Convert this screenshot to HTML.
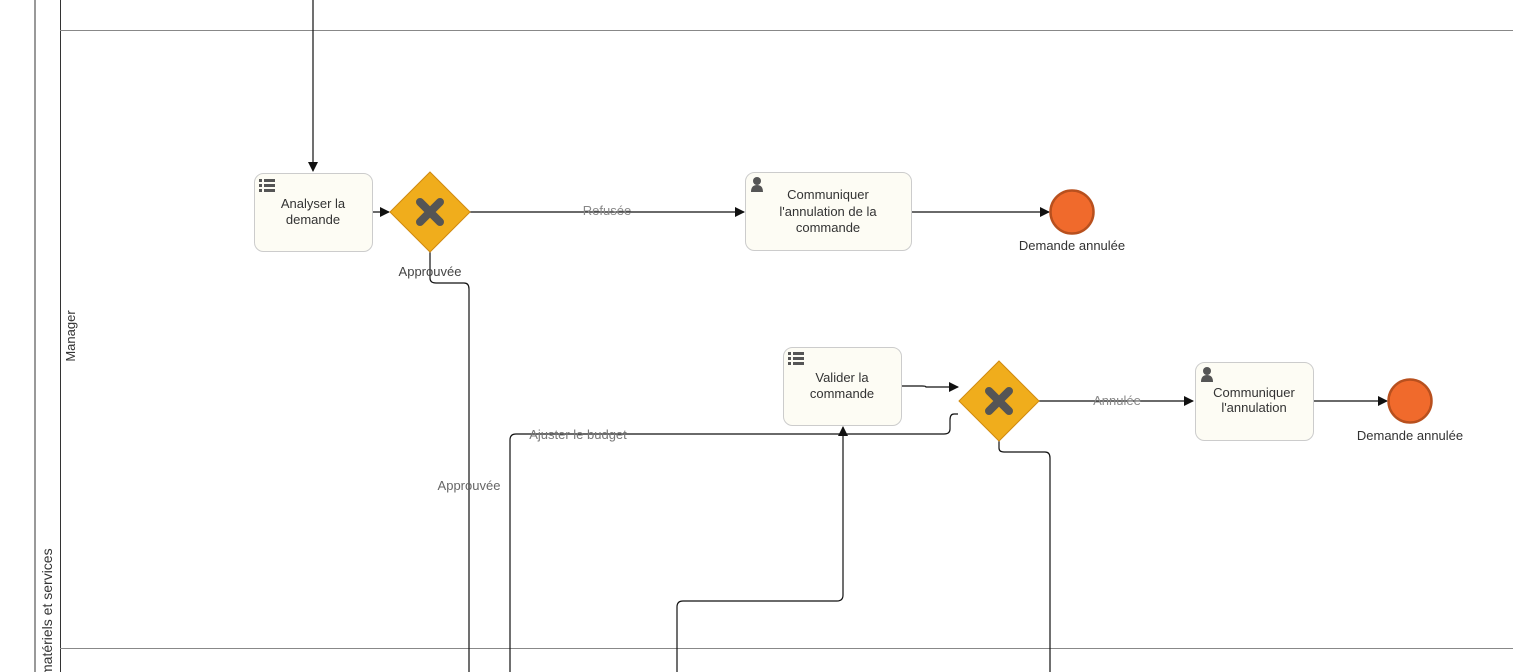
<!DOCTYPE html>
<html><head><meta charset="utf-8"><style>
html,body{margin:0;padding:0;background:#fff;}
svg{display:block;font-family:"Liberation Sans",sans-serif;}
</style></head><body>
<svg width="1513" height="672" viewBox="0 0 1513 672" xmlns="http://www.w3.org/2000/svg">
<defs>
<marker id="a" markerWidth="10" markerHeight="10" refX="9" refY="5" orient="auto" markerUnits="userSpaceOnUse">
<path d="M0,0 L10,5 L0,10 z" fill="#111"/></marker>
<g id="x"><path d="M-10,-10 L10,10 M10,-10 L-10,10" stroke="#555" stroke-width="8" stroke-linecap="round"/></g>
<g id="list" fill="#555"><rect x="0" y="0" width="3" height="3"/><rect x="5" y="0" width="11" height="3"/><rect x="0" y="5" width="3" height="3"/><rect x="5" y="5" width="11" height="3"/><rect x="0" y="10" width="3" height="3"/><rect x="5" y="10" width="11" height="3"/></g>
<g id="user" fill="#555"><circle cx="6" cy="4" r="4"/><path d="M0,15 Q0,8 6,8 Q12,8 12,15 z"/></g>
</defs>
<rect x="0" y="0" width="1513" height="672" fill="#fff"/>
<line x1="35" y1="0" x2="35" y2="672" stroke="#333"/>
<line x1="60.5" y1="0" x2="60.5" y2="672" stroke="#333"/>
<line x1="60" y1="30.5" x2="1513" y2="30.5" stroke="#888"/>
<line x1="60" y1="648.5" x2="1513" y2="648.5" stroke="#888"/>
<text transform="translate(75,336) rotate(-90)" text-anchor="middle" font-size="13" fill="#333">Manager</text>
<text transform="translate(52,672) rotate(-90)" text-anchor="start" font-size="14" fill="#333" dx="-4">matériels et services</text>

<g fill="none" stroke="#111" stroke-width="1.2">
<line x1="313" y1="0" x2="313" y2="171" marker-end="url(#a)"/>
<line x1="372" y1="212" x2="389" y2="212" marker-end="url(#a)"/>
<line x1="470" y1="212" x2="744" y2="212" marker-end="url(#a)"/>
<line x1="911" y1="212" x2="1049" y2="212" marker-end="url(#a)"/>
<path d="M430,252 V278 Q430,283 436,283 H464 Q469,283 469,289 V672"/>
<path d="M901,386 H922 Q926,386 926,387 H958" marker-end="url(#a)"/>
<line x1="1039" y1="401" x2="1193" y2="401" marker-end="url(#a)"/>
<line x1="1313" y1="401" x2="1387" y2="401" marker-end="url(#a)"/>
<path d="M958,414 H954 Q950,414 950,420 V429 Q950,434 944,434 H516 Q510,434 510,440 V672"/>
<path d="M677,672 V607 Q677,601 683,601 H837 Q843,601 843,595 V427" marker-end="url(#a)"/>
<path d="M999,441 V448 Q999,452 1004,452 H1045 Q1050,452 1050,458 V672"/>
</g>

<rect x="254.5" y="173.5" width="118" height="78" rx="9" fill="#fdfcf4" stroke="#ccc"/>
<use href="#list" x="259" y="179"/>
<text font-size="13" fill="#333" text-anchor="middle"><tspan x="313" y="208">Analyser la</tspan><tspan x="313" y="224">demande</tspan></text>

<polygon points="430,172 470,212 430,252 390,212" fill="#f0ad1c" stroke="#d08a10"/>
<use href="#x" x="430" y="212"/>
<text x="430" y="276" font-size="13" fill="#444" text-anchor="middle">Approuvée</text>
<text x="607" y="215" font-size="13" fill="#888" text-anchor="middle">Refusée</text>

<rect x="745.5" y="172.5" width="166" height="78" rx="9" fill="#fdfcf4" stroke="#ccc"/>
<use href="#user" x="751" y="177"/>
<text font-size="13" fill="#333" text-anchor="middle"><tspan x="828" y="199">Communiquer</tspan><tspan x="828" y="216">l'annulation de la</tspan><tspan x="828" y="232">commande</tspan></text>

<circle cx="1072" cy="212" r="21.5" fill="#f06a2c" stroke="#b8501e" stroke-width="2.5"/>
<text x="1072" y="250" font-size="13" fill="#333" text-anchor="middle">Demande annulée</text>

<text x="469" y="490" font-size="13" fill="#666" text-anchor="middle">Approuvée</text>

<rect x="783.5" y="347.5" width="118" height="78" rx="9" fill="#fdfcf4" stroke="#ccc"/>
<use href="#list" x="788" y="352"/>
<text font-size="13" fill="#333" text-anchor="middle"><tspan x="842" y="382">Valider la</tspan><tspan x="842" y="398">commande</tspan></text>

<polygon points="999,361 1039,401 999,441 959,401" fill="#f0ad1c" stroke="#d08a10"/>
<use href="#x" x="999" y="401"/>
<text x="1117" y="405" font-size="13" fill="#888" text-anchor="middle">Annulée</text>
<text x="578" y="439" font-size="13" fill="#777" text-anchor="middle">Ajuster le budget</text>

<rect x="1195.5" y="362.5" width="118" height="78" rx="9" fill="#fdfcf4" stroke="#ccc"/>
<use href="#user" x="1201" y="367"/>
<text font-size="13" fill="#333" text-anchor="middle"><tspan x="1254" y="397">Communiquer</tspan><tspan x="1254" y="412">l'annulation</tspan></text>

<circle cx="1410" cy="401" r="21.5" fill="#f06a2c" stroke="#b8501e" stroke-width="2.5"/>
<text x="1410" y="440" font-size="13" fill="#333" text-anchor="middle">Demande annulée</text>
</svg>
</body></html>
